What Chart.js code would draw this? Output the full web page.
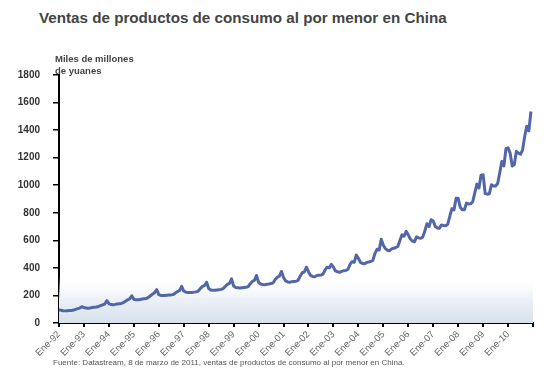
<!DOCTYPE html>
<html lang="es">
<head>
<meta charset="utf-8">
<title>Ventas de productos de consumo al por menor en China</title>
<script src="https://cdn.jsdelivr.net/npm/chart.js@4.4.1/dist/chart.umd.min.js"></script>
<style>
  html, body { margin: 0; padding: 0; background: #fff; }
  body { width: 554px; height: 387px; position: relative; overflow: hidden;
    font-family: "Liberation Sans", Arial, sans-serif; }
  #title { position: absolute; left: 39px; top: 9px; font-size: 15.2px; font-weight: bold;
    color: #444; white-space: nowrap; }
  #unit { position: absolute; left: 55px; top: 53px; font-size: 9.5px; font-weight: bold;
    color: #444; line-height: 12px; white-space: nowrap; }
  #src { position: absolute; left: 53px; top: 358px; font-size: 8px; color: #555; white-space: nowrap; }
  #chart { position: absolute; left: 0; top: 0; }
</style>
</head>
<body>
<div id="title">Ventas de productos de consumo al por menor en China</div>
<canvas id="chart" width="554" height="387"></canvas>
<div id="unit">Miles de millones<br>de yuanes</div>
<div id="src">Fuente: Datastream, 8 de marzo de 2011, ventas de productos de consumo al por menor en China.</div>
<script>
/* monthly retail sales, bn yuan, Ene-92 .. Dic-10 */
const MONTHS = ["Ene", "Feb", "Mar", "Abr", "May", "Jun", "Jul", "Ago", "Sep", "Oct", "Nov", "Dic"];
const YEARS = ["92", "93", "94", "95", "96", "97", "98", "99", "00", "01",
  "02", "03", "04", "05", "06", "07", "08", "09", "10", "11"];
const SALES = [
  96, 92, 89, 88, 89, 90, 91, 94, 99, 104, 108, 118,            // 1992
  112, 108, 107, 109, 112, 114, 116, 120, 126, 132, 138, 162,   // 1993
  140, 134, 133, 135, 138, 140, 142, 148, 158, 168, 175, 198,   // 1994
  172, 168, 168, 170, 174, 176, 178, 186, 198, 210, 220, 242,   // 1995
  206, 200, 199, 200, 202, 203, 204, 207, 218, 228, 236, 266,   // 1996
  232, 224, 221, 221, 222, 224, 226, 232, 250, 266, 272, 296,   // 1997
  250, 240, 237, 238, 240, 242, 244, 250, 266, 280, 288, 320,   // 1998
  268, 258, 255, 254, 256, 258, 259, 264, 285, 302, 310, 345,   // 1999
  295, 283, 279, 278, 281, 283, 286, 292, 316, 332, 340, 374,   // 2000
  330, 305, 298, 296, 300, 302, 303, 310, 340, 365, 370, 405,   // 2001
  372, 345, 338, 336, 345, 347, 348, 355, 385, 405, 400, 426,   // 2002
  405, 378, 372, 368, 375, 380, 382, 390, 425, 445, 440, 494,   // 2003
  470, 440, 432, 430, 440, 443, 447, 456, 505, 535, 530, 608,   // 2004
  565, 540, 528, 525, 538, 542, 548, 556, 600, 640, 630, 665,   // 2005
  640, 610, 595, 590, 625, 618, 615, 625, 670, 720, 700, 750,   // 2006
  740, 700, 690, 688, 712, 708, 705, 718, 775, 830, 820, 905,   // 2007
  905, 840, 822, 822, 870, 864, 865, 880, 945, 1008, 980, 1073, // 2008
  1076, 940, 935, 938, 1003, 994, 994, 1012, 1091, 1172, 1140, 1265, // 2009
  1272, 1233, 1140, 1151, 1246, 1233, 1225, 1257, 1354, 1428, 1395, 1535 // 2010
];
const Y_MAX = 1800, Y_STEP = 200;

(function () {
  "use strict";
  const FONT = '"Liberation Sans", Arial, sans-serif';

  // one label per month, plus Ene-11 so the axis runs to the end of 2010
  const labels = [];
  YEARS.forEach(y => MONTHS.forEach(m => labels.push(m + "-" + y)));
  labels.length = SALES.length + 1;

  // pale blue band along the bottom of the plot
  const band = {
    id: "band",
    beforeDatasetsDraw(chart) {
      const { ctx, chartArea: a, scales: { y } } = chart;
      const y0 = y.getPixelForValue(0), y1 = y.getPixelForValue(340);
      const g = ctx.createLinearGradient(0, y0, 0, y1);
      g.addColorStop(0, "#d6e1ec");
      g.addColorStop(0.5, "#ebf0f6");
      g.addColorStop(1, "rgba(255,255,255,0)");
      ctx.save();
      ctx.fillStyle = g;
      ctx.fillRect(a.left, y1, a.right - a.left, y0 - y1);
      ctx.restore();
    }
  };

  new Chart(document.getElementById("chart"), {
    type: "line",
    data: {
      labels,
      datasets: [{
        data: SALES,
        borderColor: "#5266a8",
        borderWidth: 3,
        pointRadius: 0,
        tension: 0,
        borderJoinStyle: "round",
        fill: false
      }]
    },
    plugins: [band],
    options: {
      responsive: false,
      animation: false,
      layout: { padding: { left: 0, top: 75, right: 21, bottom: 0 } },
      plugins: { legend: { display: false }, tooltip: { enabled: false } },
      scales: {
        x: {
          offset: false,
          afterFit(s) { s.height = 64; },
          border: { display: true, color: "#000", width: 2 },
          grid: { drawOnChartArea: false, drawTicks: true, tickLength: 4, color: "#000", lineWidth: 2 },
          ticks: {
            autoSkip: false, maxRotation: 45, minRotation: 45, padding: 2,
            color: "#666", font: { family: FONT, size: 9.5 },
            callback: (v, i) => i % 12 === 0 ? (i / 12 < YEARS.length - 1 ? labels[i] : "") : null
          }
        },
        y: {
          min: 0, max: Y_MAX,
          afterFit(s) { s.width = 59; },
          border: { display: true, color: "#000", width: 2 },
          grid: { drawOnChartArea: false, drawTicks: true, tickLength: 6, color: "#000", lineWidth: 1.5 },
          ticks: { stepSize: Y_STEP, padding: 13, color: "#333",
            font: { family: FONT, size: 10, weight: "bold" },
            callback: v => String(v) }
        }
      }
    }
  });
})();
</script>
</body>
</html>
